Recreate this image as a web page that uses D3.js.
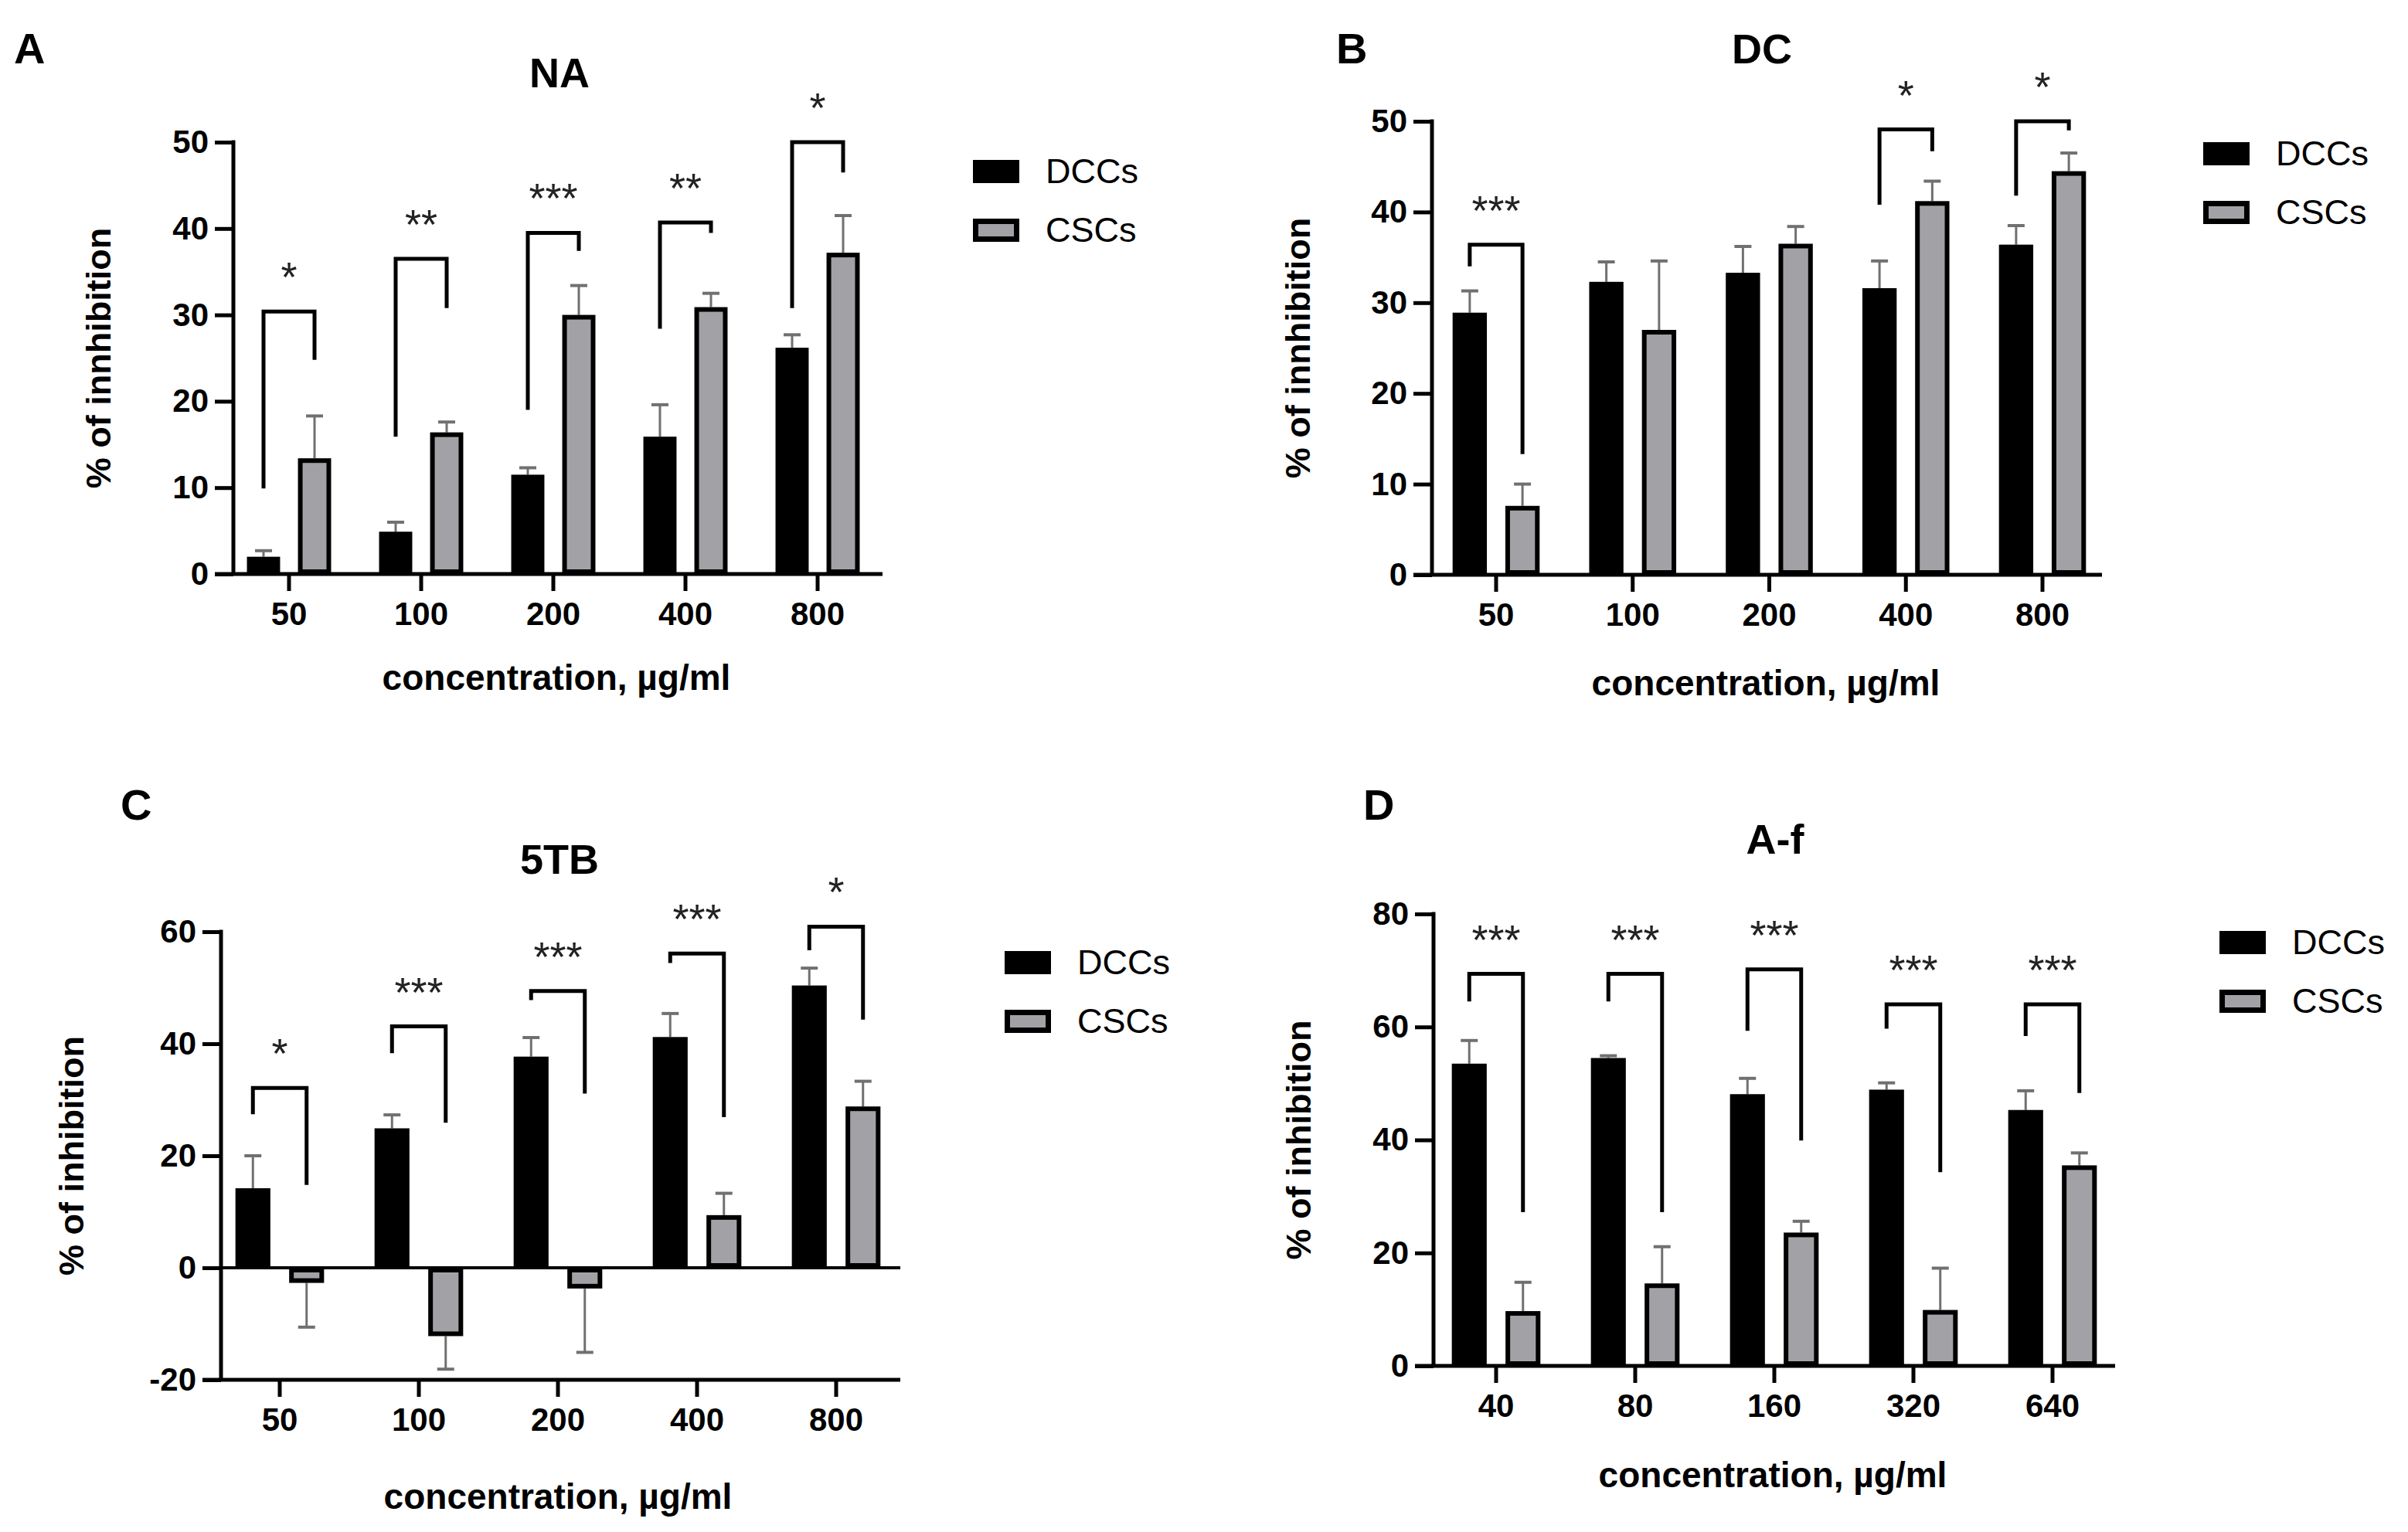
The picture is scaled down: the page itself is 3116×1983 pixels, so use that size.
<!DOCTYPE html>
<html>
<head>
<meta charset="utf-8">
<script src="https://cdn.jsdelivr.net/npm/d3@7"></script>
<style>
  body { margin: 0; background: #fff; }
  text { font-family: "Liberation Sans", Arial, Helvetica, sans-serif; }
</style>
</head>
<body>
<svg id="fig" width="3116" height="1983"></svg>
<script>
var SERIES = ['DCCs', 'CSCs'];
var GRIS = '#a2a2a6';
var GRIS_ERR = '#707070';

// A - NA
var naDosis = ['50', '100', '200', '400', '800'];
var naDCC = [2.0, 4.9, 11.5, 15.9, 26.2];
var naDCCErr = [0.7, 1.1, 0.8, 3.7, 1.5];
var naCSC = [13.4, 16.4, 30.0, 30.9, 37.2];
var naCSCErr = [4.9, 1.2, 3.4, 1.6, 4.3];
var naBrkIdx = [0, 1, 2, 3, 4];
var naBrkTop = [30.4, 36.5, 39.5, 40.7, 50.0];
var naBrkLeft = [9.9, 15.9, 19.0, 28.4, 30.8];
var naBrkRight = [24.8, 30.8, 37.4, 39.5, 46.5];
var naStars = ['*', '**', '***', '**', '*'];

// B - DC
var dcDosis = ['50', '100', '200', '400', '800'];
var dcDCC = [28.9, 32.3, 33.3, 31.6, 36.4];
var dcDCCErr = [2.4, 2.2, 2.9, 3.0, 2.1];
var dcCSC = [7.6, 27.0, 36.5, 41.2, 44.5];
var dcCSCErr = [2.4, 7.6, 1.9, 2.2, 2.0];
var dcBrkIdx = [0, 3, 4];
var dcBrkTop = [36.4, 49.1, 50.0];
var dcBrkLeft = [34.0, 40.8, 41.8];
var dcBrkRight = [13.3, 46.7, 49.0];
var dcStars = ['***', '*', '*'];

// C - 5TB
var tbDosis = ['50', '100', '200', '400', '800'];
var tbDCC = [14.2, 24.9, 37.7, 41.2, 50.4];
var tbDCCErr = [5.8, 2.4, 3.4, 4.2, 3.1];
var tbCSC = [-2.7, -12.2, -3.7, 9.4, 28.8];
var tbCSCErr = [7.9, 5.9, 11.4, 3.9, 4.5];
var tbBrkIdx = [0, 1, 2, 3, 4];
var tbBrkTop = [32.1, 43.1, 49.4, 56.1, 60.9];
var tbBrkLeft = [27.4, 38.3, 47.8, 54.4, 56.7];
var tbBrkRight = [14.8, 25.9, 31.1, 26.9, 44.3];
var tbStars = ['*', '***', '***', '***', '*'];

// D - A-f
var afDosis = ['40', '80', '160', '320', '640'];
var afDCC = [53.5, 54.5, 48.1, 48.9, 45.3];
var afDCCErr = [4.1, 0.4, 2.8, 1.2, 3.4];
var afCSC = [9.7, 14.6, 23.6, 9.9, 35.5];
var afCSCErr = [5.1, 6.5, 2.0, 7.4, 2.2];
var afBrkIdx = [0, 1, 2, 3, 4];
var afBrkTop = [69.4, 69.4, 70.2, 64.0, 64.0];
var afBrkLeft = [64.5, 64.5, 59.3, 59.7, 58.4];
var afBrkRight = [27.2, 27.2, 39.9, 34.3, 48.3];
var afStars = ['***', '***', '***', '***', '***'];

var svg = d3.select('#fig');

var paneles = [
  { letra: 'A', titulo: 'NA', yLabel: '% of innhibition',
    cats: naDosis, dcc: naDCC, dccErr: naDCCErr, csc: naCSC, cscErr: naCSCErr,
    brkIdx: naBrkIdx, brkTop: naBrkTop, brkLeft: naBrkLeft, brkRight: naBrkRight, stars: naStars,
    yDomain: [0, 50], yTicks: [0, 10, 20, 30, 40, 50], yRange: [743, 184],
    axisX: 302, tickFirst: 374, tickLast: 1058, right: 1142,
    tituloX: 724, tituloY: 113, letraX: 18, letraY: 82,
    yLabelX: 143, xLabelX: 720, xLabelY: 893, legX: 1259, legY: 207 },
  { letra: 'B', titulo: 'DC', yLabel: '% of innhibition',
    cats: dcDosis, dcc: dcDCC, dccErr: dcDCCErr, csc: dcCSC, cscErr: dcCSCErr,
    brkIdx: dcBrkIdx, brkTop: dcBrkTop, brkLeft: dcBrkLeft, brkRight: dcBrkRight, stars: dcStars,
    yDomain: [0, 50], yTicks: [0, 10, 20, 30, 40, 50], yRange: [744, 157],
    axisX: 1853, tickFirst: 1936, tickLast: 2643, right: 2720,
    tituloX: 2280, tituloY: 82, letraX: 1729, letraY: 82,
    yLabelX: 1695, xLabelX: 2285, xLabelY: 900, legX: 2851, legY: 184 },
  { letra: 'C', titulo: '5TB', yLabel: '% of inhibition',
    cats: tbDosis, dcc: tbDCC, dccErr: tbDCCErr, csc: tbCSC, cscErr: tbCSCErr,
    brkIdx: tbBrkIdx, brkTop: tbBrkTop, brkLeft: tbBrkLeft, brkRight: tbBrkRight, stars: tbStars,
    yDomain: [-20, 60], yTicks: [-20, 0, 20, 40, 60], yRange: [1786, 1206],
    axisX: 286, tickFirst: 362, tickLast: 1082, right: 1165,
    tituloX: 724, tituloY: 1131, letraX: 156, letraY: 1061,
    yLabelX: 108, xLabelX: 722, xLabelY: 1953, legX: 1300, legY: 1231 },
  { letra: 'D', titulo: 'A-f', yLabel: '% of inhibition',
    cats: afDosis, dcc: afDCC, dccErr: afDCCErr, csc: afCSC, cscErr: afCSCErr,
    brkIdx: afBrkIdx, brkTop: afBrkTop, brkLeft: afBrkLeft, brkRight: afBrkRight, stars: afStars,
    yDomain: [0, 80], yTicks: [0, 20, 40, 60, 80], yRange: [1768, 1183],
    axisX: 1855, tickFirst: 1936, tickLast: 2656, right: 2737,
    tituloX: 2297, tituloY: 1105, letraX: 1764, letraY: 1061,
    yLabelX: 1696, xLabelX: 2294, xLabelY: 1925, legX: 2872, legY: 1205 }
];

paneles.forEach(dibujarPanel);

function dibujarPanel(p){

  var g = svg.append('g');
  var n = p.cats.length;
  var step = (p.tickLast - p.tickFirst) / (n - 1);

  var x0 = d3.scaleBand().domain(p.cats)
    .range([p.tickFirst - step / 2, p.tickLast + step / 2]);
  var x1 = d3.scaleBand().domain(SERIES)
    .range([0, x0.bandwidth()])
    .paddingInner(0.35).paddingOuter(0.47);
  var y = d3.scaleLinear().domain(p.yDomain).range(p.yRange);

  var filas = [];
  p.cats.forEach(function(c, i){
    filas.push({ cat: c, serie: 'DCCs', v: p.dcc[i], e: p.dccErr[i] });
    filas.push({ cat: c, serie: 'CSCs', v: p.csc[i], e: p.cscErr[i] });
  });

  function centro(d){ return x0(d.cat) + x1(d.serie) + x1.bandwidth() / 2; }
  function fin(d){ return d.v >= 0 ? d.v + d.e : d.v - d.e; }

  // error bars (drawn first, bars cover their base)
  var eb = g.append('g').attr('stroke', GRIS_ERR);
  eb.selectAll('line.err').data(filas).enter().append('line')
      .attr('class', 'err')
      .attr('stroke-width', 3)
      .attr('x1', centro).attr('x2', centro)
      .attr('y1', function(d){ return y(d.v); })
      .attr('y2', function(d){ return y(fin(d)); });
  eb.selectAll('line.cap').data(filas).enter().append('line')
      .attr('class', 'cap')
      .attr('stroke-width', 4)
      .attr('x1', function(d){ return centro(d) - 11; })
      .attr('x2', function(d){ return centro(d) + 11; })
      .attr('y1', function(d){ return y(fin(d)); })
      .attr('y2', function(d){ return y(fin(d)); });

  // bars
  g.append('g').selectAll('rect').data(filas).enter().append('rect')
      .each(function(d){
        var r = d3.select(this);
        var top = y(Math.max(0, d.v));
        var h = Math.abs(y(d.v) - y(0));
        var x = x0(d.cat) + x1(d.serie);
        var w = x1.bandwidth();
        if (d.serie === 'DCCs') {
          r.attr('x', x).attr('y', top).attr('width', w).attr('height', h)
            .attr('fill', '#000');
        } else {
          r.attr('x', x + 3).attr('y', top + 3)
            .attr('width', w - 6).attr('height', Math.max(0, h - 6))
            .attr('fill', GRIS).attr('stroke', '#000').attr('stroke-width', 6);
        }
      });

  // zero line for panels with negative values
  if (p.yDomain[0] < 0) {
    g.append('line')
        .attr('x1', p.axisX - 24).attr('x2', p.right)
        .attr('y1', y(0)).attr('y2', y(0))
        .attr('stroke', '#000').attr('stroke-width', 4);
  }

  // y axis
  var ejeY = g.append('g')
      .attr('transform', 'translate(' + p.axisX + ',0)')
      .call(d3.axisLeft(y).tickValues(p.yTicks)
        .tickFormat(function(d){ return String(d); })
        .tickSize(24).tickSizeOuter(0).tickPadding(8));
  ejeY.select('.domain').remove();
  ejeY.selectAll('line').attr('stroke', '#000').attr('stroke-width', 5);
  ejeY.selectAll('text')
      .attr('fill', '#000')
      .attr('font-size', 42)
      .attr('font-weight', 'bold')
      .attr('font-family', '"Liberation Sans", Arial, sans-serif');
  g.append('line')
      .attr('x1', p.axisX).attr('x2', p.axisX)
      .attr('y1', y(p.yDomain[0])).attr('y2', y(p.yDomain[1]) - 2.5)
      .attr('stroke', '#000').attr('stroke-width', 5);

  // x axis
  var ejeX = g.append('g')
      .attr('transform', 'translate(0,' + y(p.yDomain[0]) + ')')
      .call(d3.axisBottom(x0).tickSize(22).tickSizeOuter(0).tickPadding(14));
  ejeX.select('.domain').remove();
  ejeX.selectAll('line').attr('stroke', '#000').attr('stroke-width', 5);
  ejeX.selectAll('text')
      .attr('fill', '#000')
      .attr('font-size', 42)
      .attr('font-weight', 'bold')
      .attr('font-family', '"Liberation Sans", Arial, sans-serif');
  g.append('line')
      .attr('x1', p.axisX - 24).attr('x2', p.right)
      .attr('y1', y(p.yDomain[0])).attr('y2', y(p.yDomain[0]))
      .attr('stroke', '#000').attr('stroke-width', 5);

  // significance brackets
  var brk = g.append('g');
  p.brkIdx.forEach(function(i, k){
    var c = p.cats[i];
    var xl = x0(c) + x1('DCCs') + x1.bandwidth() / 2;
    var xr = x0(c) + x1('CSCs') + x1.bandwidth() / 2;
    brk.append('path')
        .attr('d', 'M' + xl + ',' + y(p.brkLeft[k]) +
                   'V' + y(p.brkTop[k]) +
                   'H' + xr +
                   'V' + y(p.brkRight[k]))
        .attr('fill', 'none')
        .attr('stroke', '#000')
        .attr('stroke-width', 5);
    brk.append('text')
        .attr('x', (xl + xr) / 2)
        .attr('y', y(p.brkTop[k]) - 26)
        .attr('text-anchor', 'middle')
        .attr('font-size', 54)
        .attr('fill', '#222')
        .text(p.stars[k]);
  });

  // titles and labels
  g.append('text')
      .attr('x', p.tituloX).attr('y', p.tituloY)
      .attr('text-anchor', 'middle')
      .attr('font-size', 54).attr('font-weight', 'bold')
      .text(p.titulo);

  g.append('text')
      .attr('x', p.letraX).attr('y', p.letraY)
      .attr('font-size', 56).attr('font-weight', 'bold')
      .text(p.letra);

  var yMid = (p.yRange[0] + p.yRange[1]) / 2;
  g.append('text')
      .attr('transform', 'translate(' + p.yLabelX + ',' + yMid + ') rotate(-90)')
      .attr('text-anchor', 'middle')
      .attr('font-size', 45).attr('font-weight', 'bold')
      .text(p.yLabel);

  g.append('text')
      .attr('x', p.xLabelX).attr('y', p.xLabelY)
      .attr('text-anchor', 'middle')
      .attr('font-size', 46).attr('font-weight', 'bold')
      .text('concentration, \u00b5g/ml');

  // legend
  var leg = g.append('g').attr('transform', 'translate(' + p.legX + ',' + p.legY + ')');
  SERIES.forEach(function(s, i){
    var fila = leg.append('g').attr('transform', 'translate(0,' + (i * 76) + ')');
    if (s === 'DCCs') {
      fila.append('rect').attr('width', 60).attr('height', 30).attr('fill', '#000');
    } else {
      fila.append('rect')
          .attr('x', 3.5).attr('y', 3.5).attr('width', 53).attr('height', 23)
          .attr('fill', GRIS).attr('stroke', '#000').attr('stroke-width', 7);
    }
    fila.append('text')
        .attr('x', 94).attr('y', 30)
        .attr('font-size', 45)
        .text(s);
  });
}
</script>
</body>
</html>
